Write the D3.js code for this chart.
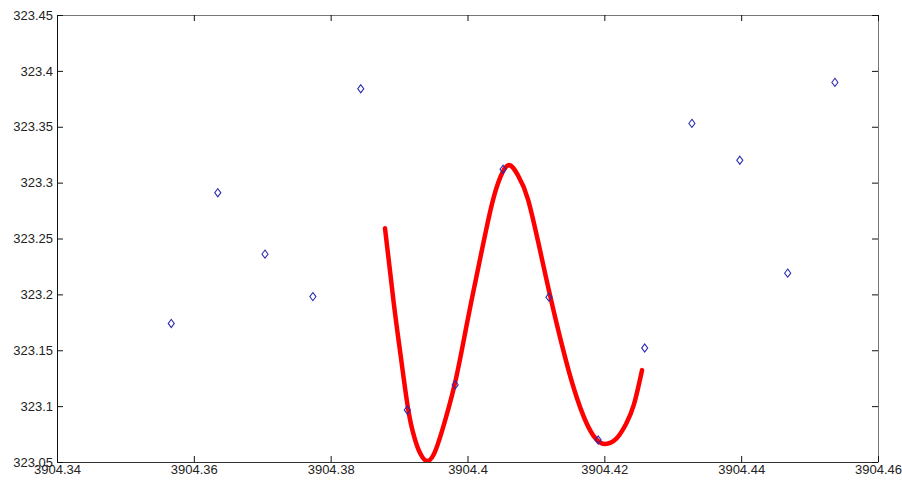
<!DOCTYPE html>
<html>
<head>
<meta charset="utf-8">
<script src="https://cdn.jsdelivr.net/npm/d3@7"></script>
<style>
  body { margin: 0; background: #fff; }
  text { font-family: Arial, "Liberation Sans", sans-serif; font-size: 13px; fill: #222; }
</style>
</head>
<body>
<div id="chart"></div>
<script>
// measured samples (blue diamonds)
let sampleX = [3904.3567, 3904.3635, 3904.3704, 3904.3774, 3904.3844, 3904.3912, 3904.3982,
  3904.4052, 3904.4119, 3904.4191, 3904.4259, 3904.4328, 3904.4398, 3904.4468, 3904.4537];
let sampleY = [323.174, 323.291, 323.236, 323.198, 323.384, 323.0965, 323.119,
  323.312, 323.1975, 323.0697, 323.152, 323.353, 323.32, 323.219, 323.3897];

// fitted curve (red line)
let fitX = [3904.38794, 3904.38926, 3904.39028, 3904.39130, 3904.39218, 3904.39306, 3904.39408,
  3904.39510, 3904.39627, 3904.39817, 3904.39993, 3904.40183, 3904.40329, 3904.40446, 3904.40592,
  3904.40738, 3904.40884, 3904.41060, 3904.41206, 3904.41381, 3904.41557, 3904.41732, 3904.41878,
  3904.42010, 3904.42171, 3904.42317, 3904.42434, 3904.42551];
let fitY = [323.2592, 323.1903, 323.1430, 323.0983, 323.0732, 323.0580, 323.0509,
  323.0572, 323.0777, 323.1206, 323.1742, 323.2315, 323.2735, 323.2994, 323.3155,
  323.3065, 323.2851, 323.2395, 323.1993, 323.1546, 323.1153, 323.0858, 323.0706,
  323.0661, 323.0706, 323.0840, 323.1018, 323.1322];

let xTicks = [3904.34, 3904.36, 3904.38, 3904.40, 3904.42, 3904.44, 3904.46];
let xTickLabels = ['3904.34', '3904.36', '3904.38', '3904.4', '3904.42', '3904.44', '3904.46'];
let yTicks = [323.05, 323.1, 323.15, 323.2, 323.25, 323.3, 323.35, 323.4, 323.45];
let yTickLabels = ['323.05', '323.1', '323.15', '323.2', '323.25', '323.3', '323.35', '323.4', '323.45'];

let W = 902, H = 485;
let margin = { top: 15, right: 24, bottom: 23, left: 57 };

let x = d3.scaleLinear().domain([3904.34, 3904.46]).range([margin.left, W - margin.right]);
let y = d3.scaleLinear().domain([323.05, 323.45]).range([H - margin.bottom, margin.top]);

const svg = d3.select('#chart').append('svg')
  .attr('width', W).attr('height', H)
  .attr('viewBox', [0, 0, W, H]);

svg.append('defs').append('clipPath').attr('id', 'plot')
  .append('rect')
  .attr('x', margin.left).attr('y', margin.top)
  .attr('width', W - margin.left - margin.right)
  .attr('height', H - margin.top - margin.bottom);

// box (top and right lighter, like the reference)
let x0 = margin.left, x1 = W - margin.right, y0 = margin.top, y1 = H - margin.bottom;
svg.append('line').attr('x1', x0).attr('x2', x1).attr('y1', y0 + 0.5).attr('y2', y0 + 0.5).attr('stroke', '#777');
svg.append('line').attr('x1', x1 + 0.5).attr('x2', x1 + 0.5).attr('y1', y0).attr('y2', y1).attr('stroke', '#777');

// axes, ticks pointing inward
let tickLen = 6;
svg.append('g')
  .attr('transform', `translate(0,${y1})`)
  .call(d3.axisBottom(x).tickValues(xTicks).tickSize(-tickLen).tickSizeOuter(0)
    .tickFormat((d, i) => xTickLabels[i]))
  .call((g) => g.select('.domain').attr('stroke', '#333'))
  .call((g) => g.selectAll('.tick text').attr('dy', null).attr('y', 12).attr('font-size', null).attr('font-family', null));

svg.append('g')
  .attr('transform', `translate(${x0},0)`)
  .call(d3.axisLeft(y).tickValues(yTicks).tickSize(-tickLen).tickSizeOuter(0)
    .tickFormat((d, i) => yTickLabels[i]))
  .call((g) => g.select('.domain').attr('stroke', '#111'))
  .call((g) => g.selectAll('.tick text').attr('x', -4).attr('font-size', null).attr('font-family', null));

// mirrored ticks on top and right
svg.append('g')
  .attr('transform', `translate(0,${y0})`)
  .call(d3.axisTop(x).tickValues(xTicks).tickSize(-tickLen).tickFormat(''))
  .call((g) => g.select('.domain').remove());
svg.append('g')
  .attr('transform', `translate(${x1},0)`)
  .call(d3.axisRight(y).tickValues(yTicks).tickSize(-tickLen).tickFormat(''))
  .call((g) => g.select('.domain').remove());

svg.selectAll('.tick line').attr('stroke', '#111');

// red curve
let fit = fitX.map((d, i) => ({ x: d, y: fitY[i] }));
svg.append('path')
  .datum(fit)
  .attr('clip-path', 'url(#plot)')
  .attr('fill', 'none')
  .attr('stroke', '#ff0000')
  .attr('stroke-width', 4.5)
  .attr('stroke-linecap', 'round')
  .attr('stroke-linejoin', 'round')
  .attr('d', d3.line().x((d) => x(d.x)).y((d) => y(d.y)).curve(d3.curveNatural));

// blue diamonds
let samples = sampleX.map((d, i) => ({ x: d, y: sampleY[i] }));
let diamond = d3.symbol().type(d3.symbolDiamond).size(19);
svg.append('g')
  .selectAll('path')
  .data(samples)
  .join('path')
  .attr('transform', (d) => `translate(${x(d.x)},${y(d.y)}) scale(1.3,1)`)
  .attr('d', diamond)
  .attr('fill', 'none')
  .attr('stroke', '#2a2ab0')
  .attr('stroke-width', 0.9);
</script>
</body>
</html>
